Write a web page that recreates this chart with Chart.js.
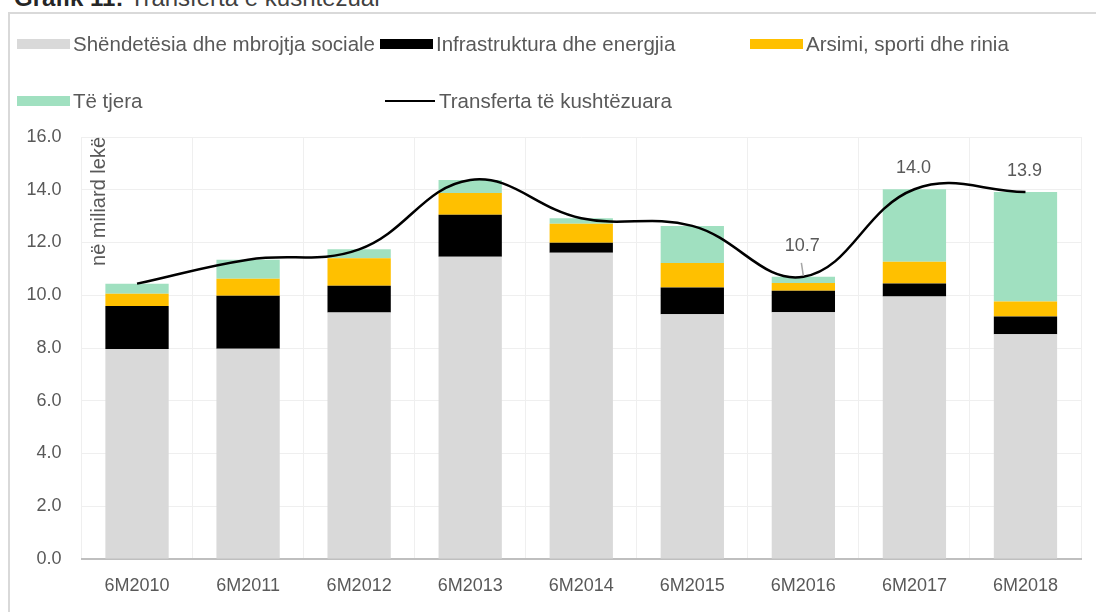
<!DOCTYPE html>
<html>
<head>
<meta charset="utf-8">
<script src="https://cdn.jsdelivr.net/npm/chart.js@4"></script>
<style>
  html, body { margin: 0; padding: 0; background: #fff; }
  body { width: 1096px; height: 612px; overflow: hidden; position: relative; font-family: "Liberation Sans", Arial, sans-serif; }
  #title { position: absolute; left: 14px; top: -14px; font-size: 24px; line-height: 24px; color: #404040; white-space: nowrap; }
  #title b { color: #262626; }
  #frame { position: absolute; left: 8px; top: 12px; width: 1200px; height: 700px; border: 2px solid #d9d9d9; }
  #wrap { position: absolute; left: 0; top: 0; width: 1096px; height: 612px; }
  .lg { position: absolute; display: flex; align-items: center; font-size: 20.5px; color: #595959; white-space: nowrap; transform: translateY(-50%); }
  .lg i { display: inline-block; width: 53px; height: 10px; margin-right: 3px; }
  .lg i.ln { height: 2px; margin-right: 4px; }
</style>
</head>
<body>
<div id="title"><b>Grafik 11:</b> Transferta e kushtëzuar</div>
<div id="frame"></div>
<div id="wrap"><canvas id="chart"></canvas></div>
<div id="legend"></div>
<script>
const categories = ['6M2010', '6M2011', '6M2012', '6M2013', '6M2014', '6M2015', '6M2016', '6M2017', '6M2018'];
const health = [7.96, 7.97, 9.35, 11.46, 11.61, 9.28, 9.36, 9.95, 8.52];
const infra = [1.63, 2.01, 1.01, 1.59, 0.38, 1.01, 0.81, 0.50, 0.67];
const education = [0.47, 0.65, 1.04, 0.83, 0.72, 0.93, 0.29, 0.82, 0.57];
const other = [0.38, 0.72, 0.34, 0.49, 0.21, 1.41, 0.24, 2.75, 4.15];
const totals = [10.44, 11.35, 11.74, 14.37, 12.92, 12.63, 10.70, 14.02, 13.91];
const labelledPoints = [6, 7, 8];
const yTicks = [0, 2, 4, 6, 8, 10, 12, 14, 16];

const textColor = '#595959';
const font = '"Liberation Sans", Arial, sans-serif';

// labels above the last three points of the line
const pointLabels = {
    id: 'pointLabels',
    afterDatasetsDraw(chart) {
        const meta = chart.getDatasetMeta(4);
        const ctx = chart.ctx;
        ctx.save();
        ctx.font = '18px ' + font;
        ctx.fillStyle = textColor;
        ctx.textAlign = 'center';
        ctx.textBaseline = 'middle';
        labelledPoints.forEach(i => {
            const pt = meta.data[i];
            const lifted = i === 6;
            const off = lifted ? 31 : 21;
            ctx.fillText(totals[i].toFixed(1), pt.x - 1, pt.y - off);
            if (lifted) {
                ctx.strokeStyle = '#a6a6a6';
                ctx.lineWidth = 1.5;
                ctx.beginPath();
                ctx.moveTo(pt.x - 2, pt.y - 14);
                ctx.lineTo(pt.x, pt.y - 1);
                ctx.stroke();
            }
        });
        ctx.restore();
    }
};

// rotated unit text inside the plot, top left
const unitTitle = {
    id: 'unitTitle',
    afterDraw(chart) {
        const ctx = chart.ctx;
        const area = chart.chartArea;
        ctx.save();
        ctx.font = '20px ' + font;
        ctx.fillStyle = textColor;
        ctx.translate(area.left + 18, area.top);
        ctx.rotate(-Math.PI / 2);
        ctx.textAlign = 'right';
        ctx.textBaseline = 'middle';
        ctx.fillText('në miliard lekë', 0, 0);
        ctx.restore();
    }
};

const chart = new Chart(document.getElementById('chart'), {
    type: 'bar',
    data: {
        labels: categories,
        datasets: [
            { label: 'Shëndetësia dhe mbrojtja sociale', data: health, backgroundColor: '#d9d9d9', order: 1 },
            { label: 'Infrastruktura dhe energjia', data: infra, backgroundColor: '#000000', order: 1 },
            { label: 'Arsimi, sporti dhe rinia', data: education, backgroundColor: '#ffc000', order: 1 },
            { label: 'Të tjera', data: other, backgroundColor: '#a0e0c0', order: 1 },
            {
                type: 'line',
                label: 'Transferta të kushtëzuara',
                data: totals,
                borderColor: '#000000',
                backgroundColor: '#000000',
                borderWidth: 2.5,
                pointRadius: 0,
                tension: 0.4,
                fill: false,
                order: 0
            }
        ]
    },
    options: {
        responsive: true,
        maintainAspectRatio: false,
        animation: false,
        datasets: {
            bar: { barPercentage: 0.57, categoryPercentage: 1.0, borderWidth: 0 }
        },
        layout: {
            padding: { top: 137, left: 21.5, right: 15, bottom: 8 }
        },
        plugins: {
            legend: { display: false },
            tooltip: { enabled: false }
        },
        scales: {
            x: {
                stacked: true,
                afterFit: s => { s.height = 45; },
                grid: { color: '#efefef', offset: true, drawTicks: false },
                border: { color: '#bfbfbf', width: 2 },
                ticks: { color: textColor, font: { family: font, size: 18 }, padding: 16, maxRotation: 0 }
            },
            y: {
                stacked: true,
                min: 0,
                max: 16,
                afterFit: s => { s.width = 60; },
                afterBuildTicks: s => { s.ticks = yTicks.map(v => ({ value: v })); },
                grid: { color: '#efefef', drawTicks: false },
                border: { display: false },
                ticks: {
                    color: textColor,
                    font: { family: font, size: 18 },
                    padding: 20,
                    callback: v => Number(v).toFixed(1)
                }
            }
        }
    },
    plugins: [pointLabels, unitTitle]
});

// legend laid out like the original, built from the datasets
const legendSlots = [[17, 44], [380, 44], [750, 44], [17, 101], [385, 101]];
const legendEl = document.getElementById('legend');
chart.data.datasets.forEach((ds, i) => {
    const item = document.createElement('div');
    item.className = 'lg';
    item.style.left = legendSlots[i][0] + 'px';
    item.style.top = legendSlots[i][1] + 'px';
    const sw = document.createElement('i');
    if (ds.type === 'line') {
        sw.className = 'ln';
        sw.style.width = '50px';
        sw.style.background = ds.borderColor;
    } else {
        sw.style.background = ds.backgroundColor;
    }
    item.appendChild(sw);
    item.appendChild(document.createTextNode(ds.label));
    legendEl.appendChild(item);
});
</script>
</body>
</html>
